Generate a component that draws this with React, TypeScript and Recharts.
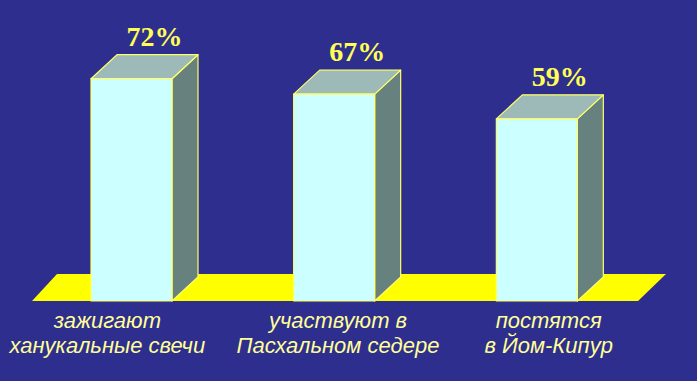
import { BarChart, Bar, XAxis, YAxis, LabelList, ReferenceArea } from "recharts";

const categories = ["зажигают\nханукальные свечи", "участвуют в\nПасхальном седере", "постятся\nв Йом-Кипур"];
const values = [72, 67, 59];

const data = categories.map((name, i) => ({ name, value: values[i] }));

const DX = 26;
const DY = 24;
const BG = "#2E2E8E";
const EDGE = "#FFFF66";
const LABEL_SHIFT = [-24, 4, 12];

function Box3D(props: any) {
  const { x, y, width, height } = props;
  const b = y + height;
  return (
    <g stroke={EDGE} strokeWidth={1.2} strokeLinejoin="round">
      <polygon points={`${x + width},${y} ${x + width + DX},${y - DY} ${x + width + DX},${b - DY} ${x + width},${b}`} fill="#67827E" />
      <polygon points={`${x},${y} ${x + DX},${y - DY} ${x + width + DX},${y - DY} ${x + width},${y}`} fill="#9DBAB8" />
      <rect x={x} y={y} width={width} height={height} fill="#CCFFFF" />
    </g>
  );
}

function Floor(props: any) {
  const { x, y, width, height } = props;
  const b = y + height;
  return (
    <polygon
      points={`${x + 2},${b} ${x + width},${b} ${x + width + 28},${b - 27} ${x + 27},${b - 27}`}
      fill="#FFFF00"
    />
  );
}

function ValueLabel(props: any) {
  const { x, y, width, value } = props;
  return (
    <text
      x={x + width / 2 + DX - 3}
      y={y - DY - 9}
      textAnchor="middle"
      fill="#FFFF55"
      fontFamily="'Liberation Serif', 'Times New Roman', serif"
      fontWeight="bold"
      fontSize={28}
    >
      {value}%
    </text>
  );
}

function CategoryTick(props: any) {
  const { x, y, payload, index } = props;
  const lines = String(payload.value).split("\n");
  const cx = x + (LABEL_SHIFT[index] ?? 0);
  return (
    <text
      x={cx}
      y={y}
      textAnchor="middle"
      fill="#FFFF99"
      fontFamily="'Liberation Sans', Arial, sans-serif"
      fontStyle="italic"
      fontSize={22}
    >
      {lines.map((l, i) => (
        <tspan key={i} x={cx} dy={i === 0 ? 19 : 25}>
          {l}
        </tspan>
      ))}
    </text>
  );
}

export default function App() {
  return (
    <div style={{ position: "absolute", left: 0, top: 0, width: 697, height: 381, background: BG }}>
      <BarChart width={697} height={381} data={data} margin={{ top: 54, right: 59, bottom: 0, left: 30 }}>
        <XAxis dataKey="name" height={80} axisLine={false} tickLine={false} interval={0} tick={<CategoryTick />} />
        <YAxis hide domain={[0, 80]} />
        <ReferenceArea y1={0} y2={1} shape={<Floor />} ifOverflow="visible" />
        <Bar dataKey="value" barSize={81} shape={<Box3D />} isAnimationActive={false}>
          <LabelList dataKey="value" content={<ValueLabel />} />
        </Bar>
      </BarChart>
    </div>
  );
}
